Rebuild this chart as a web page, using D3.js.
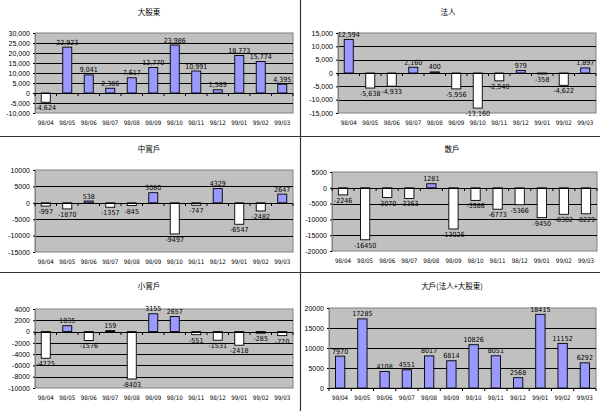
<!DOCTYPE html>
<html><head><meta charset="utf-8">
<script src="https://cdn.jsdelivr.net/npm/d3@7"></script>
<style>
body{margin:0;background:#fff;}
svg{display:block;}
text{font-family:"Liberation Sans Narrow","DejaVu Sans Condensed","Liberation Sans",sans-serif;fill:#000;}
.title{font-family:"Noto Sans CJK TC","Noto Sans CJK SC",sans-serif;font-size:7.5px;}
</style></head>
<body>
<svg id="c" width="600" height="411"></svg>
<script>
// ---- data ----
const categories = ["98/04","98/05","98/06","98/07","98/08","98/09","98/10","98/11","98/12","99/01","99/02","99/03"];
const titles = ["大股東","法人","中實戶","散戶","小實戶","大戶(法人+大股東)"];
const bigShareholders = [-4624,22923,9041,2386,7617,12770,23986,10991,1589,18773,15774,4395];
const institutions   = [12594,-5638,-4933,2160,400,-5956,-13160,-2940,979,-358,-4622,1897];
const midInvestors   = [-997,-1870,538,-1357,-845,3080,-9497,-747,4329,-6547,-2482,2647];
const retailInvestors= [-2246,-16450,-3070,-3363,1281,-13026,-3986,-6773,-5366,-9450,-8382,-8229];
const smallInvestors = [-4725,1035,-1576,159,-8403,3155,2657,-551,-1531,-2418,-285,-720];
const majorInvestors = [7970,17285,4108,4551,8017,6814,10826,8051,2568,18415,11152,6292];
const ticks1 = [-10000,-5000,0,5000,10000,15000,20000,25000,30000];
const ticks2 = [-15000,-10000,-5000,0,5000,10000,15000];
const ticks3 = [-15000,-10000,-5000,0,5000,10000];
const ticks4 = [-20000,-15000,-10000,-5000,0,5000];
const ticks5 = [-10000,-8000,-6000,-4000,-2000,0,2000,4000];
const ticks6 = [0,5000,10000,15000,20000];

const series = [bigShareholders,institutions,midInvestors,retailInvestors,smallInvestors,majorInvestors];
const tickSets = [ticks1,ticks2,ticks3,ticks4,ticks5,ticks6];
const useComma = [true,true,false,false,false,false];

// ---- layout (plot boxes) ----
const layout = [
  {cx:149, ty:15,  x0:35,  x1:293, y0:33,  y1:113, lab:125},
  {cx:448, ty:15,  x0:338, x1:596, y0:33,  y1:113, lab:125},
  {cx:149, ty:152, x0:35,  x1:293, y0:170, y1:252, lab:264},
  {cx:452, ty:152, x0:332, x1:597, y0:172, y1:251, lab:263},
  {cx:149, ty:289, x0:35,  x1:293, y0:309, y1:388, lab:400},
  {cx:452, ty:289, x0:329, x1:596, y0:308, y1:388, lab:400}
];

const svg = d3.select("#c");
const fmtC0 = d3.format(",");
const fmtN0 = d3.format("d");
const fmtC = v => fmtC0(v).replace("\u2212","-");
const fmtN = v => fmtN0(v).replace("\u2212","-");

series.forEach((vals,i)=>{
  const L = layout[i];
  const ticks = tickSets[i];
  const fmt = useComma[i] ? fmtC : fmtN;
  const g = svg.append("g");
  const x = d3.scaleBand().domain(categories).range([L.x0,L.x1]).padding(0);
  const y = d3.scaleLinear().domain(d3.extent(ticks)).range([L.y1,L.y0]);
  const bw = x.bandwidth()*0.42;

  g.append("text").attr("class","title").attr("x",L.cx).attr("y",L.ty)
    .attr("text-anchor","middle").text(titles[i]);

  // plot area
  g.append("rect").attr("x",L.x0).attr("y",L.y0).attr("width",L.x1-L.x0).attr("height",L.y1-L.y0)
    .attr("fill","#c0c0c0").attr("stroke","#808080").attr("stroke-width",1);

  // gridlines
  g.selectAll(".grid").data(ticks.filter(t=>t!==ticks[0] && t!==ticks[ticks.length-1] && t!==0))
    .join("line").attr("x1",L.x0).attr("x2",L.x1)
    .attr("y1",d=>Math.round(y(d))+0.5).attr("y2",d=>Math.round(y(d))+0.5)
    .attr("stroke","#000").attr("stroke-width",1);

  // y axis
  const yAxis = d3.axisLeft(y).tickValues(ticks).tickFormat(fmt).tickSize(2).tickPadding(3);
  const ya = g.append("g").attr("transform",`translate(${L.x0},0)`).call(yAxis);
  ya.select(".domain").attr("stroke","#808080");
  ya.selectAll(".tick line").attr("stroke","#000");
  ya.selectAll("text").style("font-size","7px").style("font-family",'"Liberation Sans Narrow","Liberation Sans",sans-serif');

  // bars
  g.selectAll(".bar").data(vals).join("rect")
    .attr("x",(d,j)=>x(categories[j])+(x.bandwidth()-bw)/2)
    .attr("y",d=>y(Math.max(0,d)))
    .attr("width",bw)
    .attr("height",d=>Math.abs(y(d)-y(0)))
    .attr("fill",d=>d>=0?"#9999ff":"#ffffff")
    .attr("stroke","#000").attr("stroke-width",0.9);

  // zero axis with category ticks
  const zy = Math.round(y(0))+0.5;
  g.append("line").attr("x1",L.x0).attr("x2",L.x1).attr("y1",zy).attr("y2",zy)
    .attr("stroke","#000").attr("stroke-width",1);
  g.selectAll(".ct").data(d3.range(categories.length+1)).join("line")
    .attr("x1",j=>L.x0+j*x.bandwidth()).attr("x2",j=>L.x0+j*x.bandwidth())
    .attr("y1",zy).attr("y2",zy+2.5).attr("stroke","#000").attr("stroke-width",1);

  // data labels
  g.selectAll(".dl").data(vals).join("text")
    .attr("x",(d,j)=>x(categories[j])+x.bandwidth()/2)
    .attr("y",d=>d>=0 ? y(d)-2.5 : y(d)+8)
    .attr("text-anchor","middle").style("font-size","7px")
    .text(d=>fmt(d));

  // category labels
  g.selectAll(".cl").data(categories).join("text")
    .attr("x",d=>x(d)+x.bandwidth()/2).attr("y",L.lab)
    .attr("text-anchor","middle").style("font-size","6.2px").text(d=>d);
});

// panel separators
svg.append("line").attr("x1",0).attr("x2",600).attr("y1",136.5).attr("y2",136.5).attr("stroke","#333").attr("stroke-width",1.2);
svg.append("line").attr("x1",0).attr("x2",600).attr("y1",272.5).attr("y2",272.5).attr("stroke","#333").attr("stroke-width",1.2);
svg.append("line").attr("x1",300.5).attr("x2",300.5).attr("y1",0).attr("y2",411).attr("stroke","#333").attr("stroke-width",1.2);
</script>
</body></html>
